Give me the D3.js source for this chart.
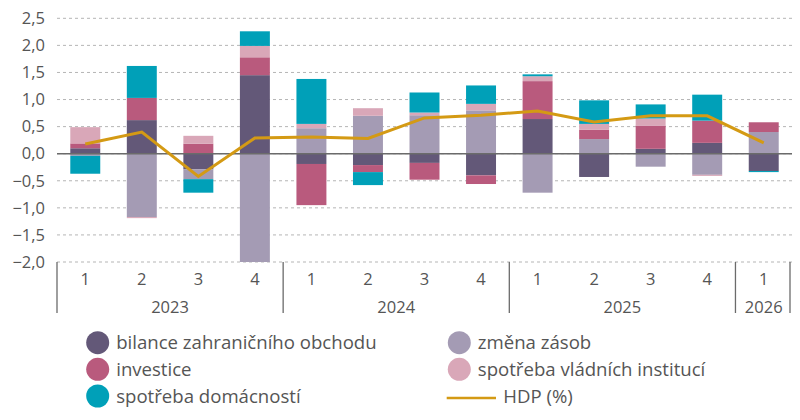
<!DOCTYPE html>
<html><head><meta charset="utf-8">
<script src="https://cdn.jsdelivr.net/npm/d3@7"></script>
<style>
html,body{margin:0;padding:0;background:#fff;}
svg{display:block;font-family:"Open Sans","Noto Sans",sans-serif;}
</style></head>
<body>
<svg id="chart" width="800" height="420"></svg>
<script>
const quarters = ["1","2","3","4","1","2","3","4","1","2","3","4","1"];
const years = ["2023","2024","2025","2026"];
const yearOf = [0,0,0,0,1,1,1,1,2,2,2,2,3];
const yTicks = [-2,-1.5,-1,-0.5,0,0.5,1,1.5,2,2.5];

const bilance    = [0.10, 0.62, -0.29, 1.45, -0.19, -0.21, -0.17, -0.40, 0.64, -0.43, 0.09, 0.20, -0.32];
const zasoby     = [-0.04, -1.17, -0.18, -2.00, 0.47, 0.70, 0.71, 0.80, -0.72, 0.27, -0.24, -0.39, 0.40];
const investice  = [0.09, 0.41, 0.185, 0.33, -0.76, -0.13, -0.31, -0.16, 0.70, 0.17, 0.43, 0.41, 0.18];
const vladni     = [0.30, -0.02, 0.145, 0.21, 0.08, 0.14, 0.05, 0.12, 0.09, 0.11, 0.13, -0.02, 0.00];
const domacnosti = [-0.33, 0.59, -0.25, 0.27, 0.83, -0.24, 0.37, 0.34, 0.035, 0.435, 0.26, 0.48, -0.02];
const hdp        = [0.18, 0.40, -0.42, 0.29, 0.31, 0.28, 0.66, 0.71, 0.79, 0.585, 0.70, 0.70, 0.20];

const seriesNames = ["bilance zahraničního obchodu","změna zásob","investice","spotřeba vládních institucí","spotřeba domácností"];
const seriesKeys = ["bilance","zasoby","investice","vladni","domacnosti"];
const seriesVals = [bilance, zasoby, investice, vladni, domacnosti];
const colors = ["#635878","#a49bb4","#b95a7d","#d9a7b8","#00a0b8"];
const lineColor = "#d49a14";
const lineName = "HDP (%)";

const rows = quarters.map((q,i)=>{
  const o = {idx:i};
  seriesKeys.forEach((k,j)=>o[k]=seriesVals[j][i]);
  return o;
});

const svg = d3.select("#chart");
const x = d3.scaleBand().domain(d3.range(quarters.length)).range([57,792]).paddingInner(0.47).paddingOuter(0.235);
const y = d3.scaleLinear().domain([-2,2.5]).range([262,18.3]);
const fmt = v => (v<0?"\u2212":"") + Math.abs(v).toFixed(1).replace(".",",");

// grid
svg.append("g").selectAll("line").data(yTicks).join("line")
  .attr("x1",57).attr("x2",792).attr("y1",d=>y(d)).attr("y2",d=>y(d))
  .attr("stroke","#b5b5b5").attr("stroke-width",1).attr("stroke-dasharray","3,3");

// y axis labels
const yAxis = d3.axisLeft(y).tickValues(yTicks).tickFormat(fmt).tickSize(0).tickPadding(0);
const ya = svg.append("g").attr("transform","translate(45,0)").call(yAxis);
ya.select(".domain").remove();
ya.selectAll("text").attr("font-size","16.5px").attr("fill","#555").attr("font-family","'Open Sans',sans-serif");

// stacks
const stack = d3.stack().keys(seriesKeys).offset(d3.stackOffsetDiverging);
const stacked = stack(rows);
svg.append("g").selectAll("g").data(stacked).join("g")
  .attr("fill",(d,i)=>colors[i])
  .selectAll("rect").data(d=>d).join("rect")
  .attr("x",d=>x(d.data.idx)).attr("width",x.bandwidth())
  .attr("y",d=>y(Math.max(d[0],d[1])))
  .attr("height",d=>Math.abs(y(d[0])-y(d[1])));

// zero line
svg.append("line").attr("x1",57).attr("x2",792).attr("y1",y(0)).attr("y2",y(0))
  .attr("stroke","#6b6b6b").attr("stroke-width",1.5);

// HDP line
const line = d3.line().x((d,i)=>x(i)+x.bandwidth()/2).y(d=>y(d));
svg.append("path").datum(hdp).attr("d",line).attr("fill","none")
  .attr("stroke",lineColor).attr("stroke-width",3).attr("stroke-linejoin","miter");

// x axis: quarter labels
const xa = svg.append("g");
xa.selectAll("text.q").data(quarters).join("text").attr("class","q")
  .attr("x",(d,i)=>x(i)+x.bandwidth()/2).attr("y",279).attr("dy","0.35em")
  .attr("text-anchor","middle").attr("font-size","16.5px").attr("fill","#555").text(d=>d);
// year groups
const groups = years.map((yr,g)=>{
  const idxs = d3.range(quarters.length).filter(i=>yearOf[i]===g);
  const step = x.step();
  const start = x(idxs[0]) + x.bandwidth()/2 - step/2;
  const end = x(idxs[idxs.length-1]) + x.bandwidth()/2 + step/2;
  return {yr,start,end};
});
xa.selectAll("text.y").data(groups).join("text").attr("class","y")
  .attr("x",d=>(d.start+d.end)/2).attr("y",307).attr("dy","0.35em")
  .attr("text-anchor","middle").attr("font-size","16.5px").attr("fill","#555").text(d=>d.yr);
const seps = groups.map(g=>g.start).concat([790]);
xa.selectAll("line").data(seps).join("line")
  .attr("x1",d=>d).attr("x2",d=>d).attr("y1",262).attr("y2",313)
  .attr("stroke","#6b6b6b").attr("stroke-width",1.3);

// legend
const legendItems = [
  {name:seriesNames[0], color:colors[0], col:0, row:0},
  {name:seriesNames[2], color:colors[2], col:0, row:1},
  {name:seriesNames[4], color:colors[4], col:0, row:2},
  {name:seriesNames[1], color:colors[1], col:1, row:0},
  {name:seriesNames[3], color:colors[3], col:1, row:1},
];
const colX = [97.7, 459.3];
const rowY = [342.7, 369.3, 396];
const lg = svg.append("g");
legendItems.forEach(it=>{
  lg.append("circle").attr("cx",colX[it.col]).attr("cy",rowY[it.row]).attr("r",11.5).attr("fill",it.color);
  lg.append("text").attr("x",colX[it.col]+18.5).attr("y",rowY[it.row]).attr("dy","0.35em")
    .attr("font-size","18.6px").attr("fill","#555").text(it.name);
});
lg.append("line").attr("x1",446.7).attr("x2",496).attr("y1",rowY[2]+2).attr("y2",rowY[2]+2)
  .attr("stroke",lineColor).attr("stroke-width",2.5);
lg.append("text").attr("x",503.3).attr("y",rowY[2]).attr("dy","0.35em")
  .attr("font-size","18.6px").attr("fill","#555").text(lineName);
</script>
</body></html>
